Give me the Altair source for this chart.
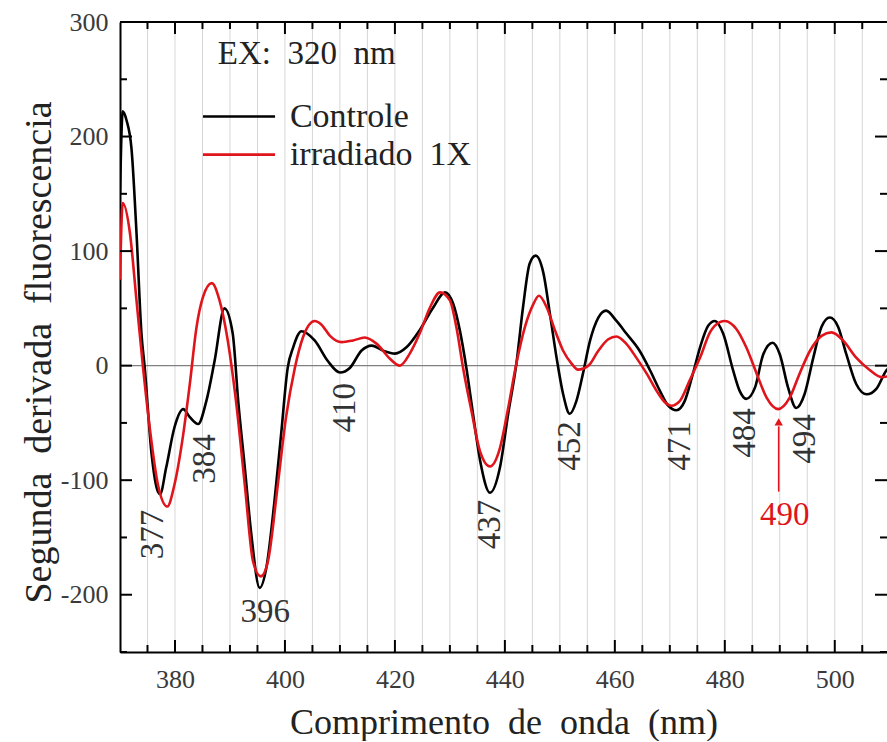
import altair as alt
import pandas as pd

# ---------------- data ----------------
ctrl_x = [370.0, 370.5, 371.2, 372.1, 373.0, 373.9, 374.5, 375.7, 376.9, 377.3, 378.4, 379.9,
          381.5, 382.7, 384.2, 385.7, 387.2, 389.0, 390.5, 391.5, 392.7, 393.9, 395.4, 396.6,
          398.1, 399.3, 400.5, 401.5, 403.0, 405.4, 407.8, 410.0, 411.8, 413.9, 415.8, 417.9,
          420.0, 422.1, 424.5, 427.0, 429.1, 430.6, 431.8, 433.0, 434.2, 435.5, 437.3, 439.1,
          440.6, 442.1, 443.3, 444.5, 445.6, 447.0, 448.2, 449.4, 450.6, 451.8, 453.0, 454.2,
          455.5, 457.0, 458.4, 460.3, 462.1, 464.5, 466.4, 468.2, 469.7, 471.2, 472.7, 474.2,
          475.5, 477.0, 478.2, 479.7, 481.5, 482.7, 483.9, 485.5, 487.0, 488.7, 490.0, 491.5,
          493.0, 494.5, 496.1, 497.6, 499.1, 500.6, 502.1, 503.9, 505.8, 507.6, 509.4, 510.0]
ctrl_y = [150, 222, 214, 189, 116, 28, -2, -75, -110, -112, -89, -54,
          -38, -45, -51, -31, 4, 50, 28, -31, -89, -148, -194, -177,
          -118, -60, -2, 16, 30, 22, 4, -6, -2, 13, 17.5, 13,
          10.5, 16, 31, 51, 64, 54, 31, -2, -42, -83, -111, -89,
          -42, 2, 51, 89, 96, 81, 45, 7, -25, -42, -31, -7,
          22, 42, 48, 39, 28, 13, -4, -22, -35, -39, -31, -7,
          16, 35, 39, 28, -4, -22, -29, -19, 10, 20, 10, -19,
          -37, -25, 7, 34, 42, 34, 10, -16, -25, -20, -4, -1]

irr_x = [370.0, 370.5, 371.8, 373.0, 374.2, 375.4, 376.9, 378.6, 379.9, 381.5, 382.7, 383.9,
         385.1, 386.7, 388.1, 389.6, 391.1, 392.7, 394.2, 395.6, 396.9, 398.7, 400.2, 401.8,
         403.3, 405.4, 406.6, 408.2, 410.3, 412.4, 414.5, 416.7, 419.1, 420.9, 422.7, 424.5,
         426.4, 428.2, 430.0, 431.2, 432.4, 433.9, 435.5, 437.3, 439.1, 440.6, 442.1, 443.6,
         445.2, 446.2, 447.6, 449.1, 450.6, 452.1, 453.3, 455.2, 457.0, 458.8, 460.3, 462.1,
         463.9, 465.8, 467.6, 469.1, 470.3, 471.8, 473.6, 475.5, 477.3, 479.1, 480.0, 482.1,
         483.9, 485.8, 487.6, 489.7, 491.8, 493.6, 495.5, 497.6, 499.4, 501.5, 503.9, 506.4,
         508.5, 510.0]
irr_y = [75, 142, 116, 57, -2, -54, -104, -123, -104, -60, -16, 33,
         60, 72, 57, 22, -31, -104, -171, -184, -171, -104, -45, -2,
         25, 39, 36, 26, 20.5, 22, 24.5, 19, 6, 0, 10.5, 28,
         51, 64, 57, 33, -2, -39, -75, -88, -72, -37, 2, 33,
         54, 61, 51, 31, 13, 2, -3.5, 0, 13, 23, 25.5, 19,
         7, -7, -22, -32, -35, -31, -13, 7, 29, 38, 39, 32,
         16, -7, -28, -38, -28, -7, 13, 26, 29, 22, 7, -4,
         -10, -9]

NB = "\u00a0"
GAP = NB + NB
series_names = ["Controle", "irradiado" + GAP + "1X"]
series_colors = ["#000000", "#e0141b"]

x_label_values = [380, 400, 420, 440, 460, 480, 500]
x_minor_values = [375, 385, 390, 395, 405, 410, 415, 425, 430, 435, 445, 450, 455,
                  465, 470, 475, 485, 490, 495, 505]
grid_values = [375, 380, 385, 390, 395, 400, 405, 410, 415, 420, 425, 430, 435, 440,
               445, 450, 455, 460, 465, 470, 475, 480, 485, 490, 495, 500, 505]
y_label_values = [-200, -100, 0, 100, 200, 300]
y_minor_values = [-250, -150, -50, 50, 150, 250]

rot_labels = ["377", "384", "410", "437", "452", "471", "484", "494"]
rot_x = [376.0, 385.5, 410.9, 437.3, 451.8, 471.8, 483.6, 494.5]
rot_y = [-147.4, -81.6, -36.8, -138.6, -70.2, -70.2, -58.8, -64.0]
flat_labels = ["396"]
flat_x = [396.4]
flat_y = [-215.0]
red_label = ["490"]
red_x = [490.9]
red_y = [-130.0]
arrow_x = [489.8]
arrow_y0 = [-110.0]
arrow_y1 = [-53.0]
arrow_tip_y = [-49.0]

ex_text = ["EX:" + GAP + "320" + GAP + "nm"]
ex_x = [387.8]
ex_y = [263.0]
leg_x0 = [385.1, 385.1]
leg_x1 = [398.2, 398.2]
leg_line_y = [217.5, 184.2]
leg_text_x = [400.9, 400.9]
leg_text_y = [208.0, 175.4]

x_title = GAP.join(["Comprimento", "de", "onda", "(nm)"])
y_title = GAP.join(["Segunda", "derivada", "fluorescencia"])

# ---------------- chart ----------------
W, H = 767, 630
FONT = "Liberation Serif"
xs = alt.Scale(domain=[370, 509.5], nice=False, zero=False)
ys = alt.Scale(domain=[-250, 300], nice=False, zero=False)

x_axis = alt.Axis(
    values=x_label_values, ticks=False, tickSize=0, grid=False,
    domain=True, domainColor="#000000", domainWidth=2,
    labelFont=FONT, labelFontSize=26, labelColor="#3a3a3a", labelPadding=14,
    labelExpr="'' + datum.value",
    title=x_title, titleFont=FONT, titleFontSize=36,
    titleFontWeight="normal", titleColor="#222222",
    titleX=W / 2, titleY=81, titleBaseline="alphabetic", titleAlign="center",
)
y_axis = alt.Axis(
    values=y_label_values, ticks=False, tickSize=0, grid=False,
    domain=True, domainColor="#000000", domainWidth=2,
    labelFont=FONT, labelFontSize=26, labelColor="#3a3a3a", labelPadding=12,
    labelExpr="'' + datum.value",
    title=y_title, titleFont=FONT, titleFontSize=38,
    titleFontWeight="normal", titleColor="#222222",
    titleX=-70, titleY=330, titleBaseline="alphabetic", titleAlign="center",
    titleAngle=270,
)


def X(field):
    return alt.X(field, type="quantitative", scale=xs, axis=x_axis)


def Y(field):
    return alt.Y(field, type="quantitative", scale=ys, axis=y_axis)


ctrl_df = pd.DataFrame({"x": ctrl_x, "y": ctrl_y})
irr_df = pd.DataFrame({"x": irr_x, "y": irr_y})

grid = alt.Chart(pd.DataFrame({"x": grid_values})).mark_rule(
    color="#d6d6d6", strokeWidth=1
).encode(x=X("x"), y=alt.value(0), y2=alt.value(H))

zero = alt.Chart(pd.DataFrame({"y": [0]})).mark_rule(
    color="#808080", strokeWidth=1.2
).encode(y=Y("y"), x=alt.value(0), x2=alt.value(W))

line_ctrl = alt.Chart(ctrl_df).mark_line(
    color=series_colors[0], strokeWidth=2.6, interpolate="monotone", clip=True
).encode(x=X("x"), y=Y("y"))
line_irr = alt.Chart(irr_df).mark_line(
    color=series_colors[1], strokeWidth=2.6, interpolate="monotone", clip=True
).encode(x=X("x"), y=Y("y"))

top_line = alt.Chart(pd.DataFrame({"a": [0]})).mark_rule(
    color="#000000", strokeWidth=2
).encode(x=alt.value(0), x2=alt.value(W), y=alt.value(0))


def xticks(vals, length):
    df = pd.DataFrame({"x": vals})
    bottom = alt.Chart(df).mark_rule(color="#000000", strokeWidth=2).encode(
        x=X("x"), y=alt.value(H), y2=alt.value(H - length))
    top = alt.Chart(df).mark_rule(color="#000000", strokeWidth=2).encode(
        x=X("x"), y=alt.value(0), y2=alt.value(length))
    return [bottom, top]


def yticks(vals, length):
    df = pd.DataFrame({"y": vals})
    left = alt.Chart(df).mark_rule(color="#000000", strokeWidth=2).encode(
        y=Y("y"), x=alt.value(0), x2=alt.value(length))
    right = alt.Chart(df).mark_rule(color="#000000", strokeWidth=2).encode(
        y=Y("y"), x=alt.value(W), x2=alt.value(W - length))
    return [left, right]


tick_layers = xticks(x_label_values, 12) + xticks(x_minor_values, 7) + \
    yticks(y_label_values, 12) + yticks(y_minor_values, 7)

rot = alt.Chart(pd.DataFrame({"x": rot_x, "y": rot_y, "t": rot_labels})).mark_text(
    angle=270, font=FONT, fontSize=33, color="#333333", align="center", baseline="middle"
).encode(x=X("x"), y=Y("y"), text="t:N")

flat = alt.Chart(pd.DataFrame({"x": flat_x, "y": flat_y, "t": flat_labels})).mark_text(
    font=FONT, fontSize=33, color="#333333", align="center", baseline="middle"
).encode(x=X("x"), y=Y("y"), text="t:N")

red_t = alt.Chart(pd.DataFrame({"x": red_x, "y": red_y, "t": red_label})).mark_text(
    font=FONT, fontSize=33, color=series_colors[1], align="center", baseline="middle"
).encode(x=X("x"), y=Y("y"), text="t:N")

arrow = alt.Chart(pd.DataFrame({"x": arrow_x, "y": arrow_y0, "y2": arrow_y1})).mark_rule(
    color=series_colors[1], strokeWidth=1.6
).encode(x=X("x"), y=Y("y"), y2="y2:Q")

arrow_head = alt.Chart(pd.DataFrame({"x": arrow_x, "y": arrow_tip_y})).mark_point(
    shape="triangle-up", filled=True, size=70, color=series_colors[1], opacity=1
).encode(x=X("x"), y=Y("y"))

ex = alt.Chart(pd.DataFrame({"x": ex_x, "y": ex_y, "t": ex_text})).mark_text(
    font=FONT, fontSize=33, color="#222222", align="left", baseline="alphabetic"
).encode(x=X("x"), y=Y("y"), text="t:N")

leg_df = pd.DataFrame({"x0": leg_x0, "x1": leg_x1, "y": leg_line_y, "s": series_names,
                       "tx": leg_text_x, "ty": leg_text_y})
color_scale = alt.Scale(domain=series_names, range=series_colors)
leg_lines = alt.Chart(leg_df).mark_rule(strokeWidth=2.6).encode(
    x=X("x0"), x2="x1:Q", y=Y("y"),
    color=alt.Color("s:N", scale=color_scale, legend=None),
)
leg_text = alt.Chart(leg_df).mark_text(
    font=FONT, fontSize=34, color="#222222", align="left", baseline="alphabetic"
).encode(x=X("tx"), y=Y("ty"), text="s:N")

chart = alt.layer(
    grid, zero, line_ctrl, line_irr, top_line, *tick_layers,
    rot, flat, red_t, arrow, arrow_head, ex, leg_lines, leg_text,
).properties(
    width=W, height=H,
    autosize=alt.AutoSizeParams(type="none"),
    padding={"left": 120, "top": 22, "right": 0, "bottom": 89},
    background="white",
).configure_view(stroke=None)

chart.save("out.html", embed_options={"renderer": "svg", "actions": False})
